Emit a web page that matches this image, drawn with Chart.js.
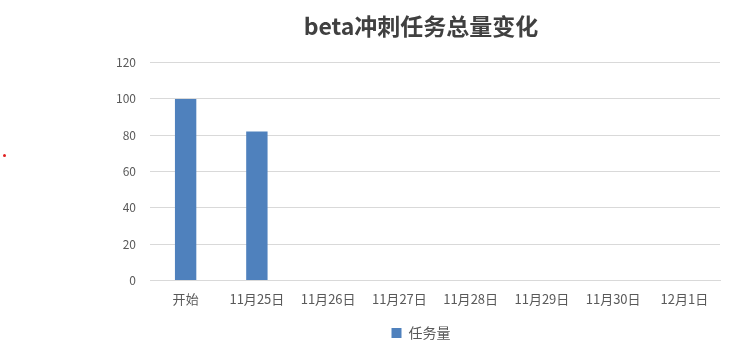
<!DOCTYPE html>
<html>
<head>
<meta charset="utf-8">
<script src="https://cdn.jsdelivr.net/npm/chart.js@4"></script>
<style>
    html, body { margin: 0; padding: 0; background: #fff; }
    #wrap { position: relative; width: 738px; height: 355px; }
    #dot { position: absolute; left: 3px; top: 154px; width: 3px; height: 3px; background: #e02020; border-radius: 50%; }
</style>
</head>
<body>
<div id="wrap">
    <canvas id="chart" width="738" height="355"></canvas>
    <div id="dot"></div>
</div>
<script>
// Donnees
const categories = ['开始', '11月25日', '11月26日', '11月27日', '11月28日', '11月29日', '11月30日', '12月1日'];
const taches = [100, 82, null, null, null, null, null, null];
const ticksY = [0, 20, 40, 60, 80, 100, 120];

const POLICE = "'Noto Sans CJK SC', 'Noto Sans', sans-serif";
const GRIS = '#595959';

const ctx = document.getElementById('chart').getContext('2d');
new Chart(ctx, {
    type: 'bar',
    data: {
        labels: categories,
        datasets: [{
            label: '任务量',
            data: taches,
            backgroundColor: '#4f81bd',
            barPercentage: 0.3,
            categoryPercentage: 1
        }]
    },
    options: {
        responsive: false,
        animation: false,
        layout: { padding: { left: 104, right: 0, top: 0, bottom: 5 } },
        plugins: {
            title: {
                display: true,
                text: 'beta冲刺任务总量变化',
                color: '#404040',
                font: { family: POLICE, size: 23, weight: 'bold' },
                padding: { top: 12, bottom: 23 }
            },
            legend: {
                position: 'bottom',
                labels: {
                    color: GRIS,
                    font: { family: POLICE, size: 14 },
                    boxWidth: 10,
                    boxHeight: 10,
                    padding: 16
                }
            },
            tooltip: { enabled: false }
        },
        scales: {
            y: {
                min: 0,
                max: 120,
                afterBuildTicks: axis => { axis.ticks = ticksY.map(v => ({ value: v })); },
                afterFit: axis => { axis.width = 46; },
                ticks: { color: GRIS, font: { family: POLICE, size: 12 }, padding: 14 },
                grid: { color: '#d9d9d9', drawTicks: false },
                border: { display: false }
            },
            // axe vide a droite, pour la marge
            y2: {
                position: 'right',
                display: true,
                afterFit: axis => { axis.width = 18; },
                ticks: { display: false },
                grid: { display: false },
                border: { display: false }
            },
            x: {
                ticks: { color: GRIS, font: { family: POLICE, size: 13 }, padding: 3, maxRotation: 0 },
                grid: { display: false },
                border: { color: '#d9d9d9' }
            }
        }
    }
});
</script>
</body>
</html>
